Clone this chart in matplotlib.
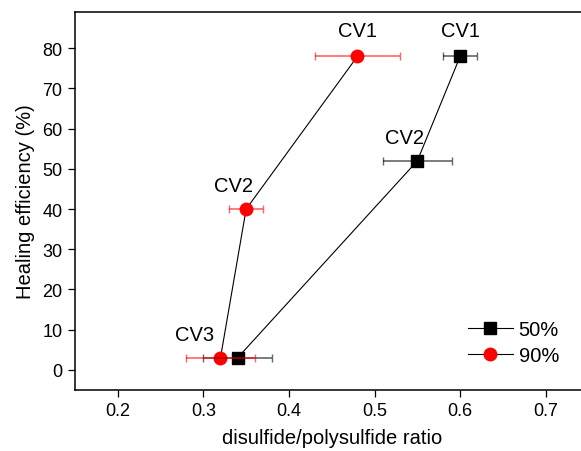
import matplotlib.pyplot as plt
from matplotlib.lines import Line2D

plt.rcParams["font.family"] = ["Liberation Sans", "DejaVu Sans"]

# 50% series
x50 = [0.60, 0.55, 0.34]
y50 = [78, 52, 3]
xerr50 = [0.02, 0.04, 0.04]

# 90% series
x90 = [0.48, 0.35, 0.32]
y90 = [78, 40, 3]
xerr90 = [0.05, 0.02, 0.04]

fig = plt.figure(figsize=(5.81, 4.52), dpi=100)
ax = fig.add_axes([0.129, 0.135, 0.884, 0.836])

ax.plot(x50, y50, color="black", lw=0.8, zorder=2)
ax.plot(x90, y90, color="black", lw=0.8, zorder=2)
ax.plot(x50, y50, ls="none", marker="s", ms=8, color="black", zorder=3)
ax.plot(x90, y90, ls="none", marker="o", ms=9, color="red", zorder=3)
ax.errorbar(x50, y50, xerr=xerr50, fmt="none", ecolor="black", alpha=0.6,
            elinewidth=1.2, capsize=3, capthick=1, zorder=4)
ax.errorbar(x90, y90, xerr=xerr90, fmt="none", ecolor="red", alpha=0.6,
            elinewidth=1.2, capsize=3, capthick=1, zorder=4)

# CV labels
fs = 14.5
ax.text(0.48, 82.0, "CV1", ha="center", va="bottom", fontsize=fs)
ax.text(0.60, 82.0, "CV1", ha="center", va="bottom", fontsize=fs)
ax.text(0.535, 55.5, "CV2", ha="center", va="bottom", fontsize=fs)
ax.text(0.335, 43.5, "CV2", ha="center", va="bottom", fontsize=fs)
ax.text(0.29, 6.5, "CV3", ha="center", va="bottom", fontsize=fs)

ax.set_xlim(0.15, 0.75)
ax.set_ylim(-5, 89)
ax.set_xticks([0.2, 0.3, 0.4, 0.5, 0.6, 0.7])
ax.set_yticks(range(0, 81, 10))
ax.tick_params(direction="out", length=5, labelsize=13, width=0.9, pad=4)
ax.set_xlabel("disulfide/polysulfide ratio", fontsize=14.5, labelpad=6)
ax.set_ylabel("Healing efficiency (%)", fontsize=14.5, labelpad=5)
for s in ax.spines.values():
    s.set_linewidth(1.1)

handles = [
    Line2D([], [], color="black", lw=0.8, marker="s", ms=8, mfc="black", mec="black"),
    Line2D([], [], color="black", lw=0.8, marker="o", ms=9, mfc="red", mec="red"),
]
ax.legend(handles, ["50%", "90%"], loc="lower right", frameon=False, fontsize=14.5,
          handlelength=2.2, borderaxespad=0.3, bbox_to_anchor=(0.97, 0.028),
          labelspacing=0.35, handletextpad=0.3)

fig.savefig("out.png", dpi=100)
